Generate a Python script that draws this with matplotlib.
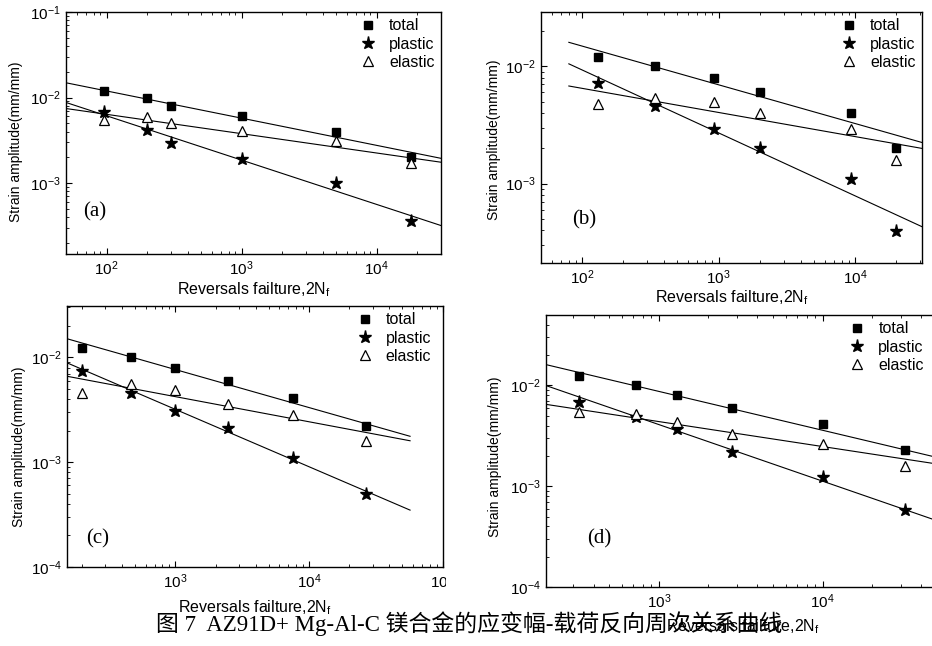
import numpy as np
import matplotlib
matplotlib.use('Agg')
import matplotlib.pyplot as plt
from matplotlib.patches import Rectangle

plt.rcParams['font.family'] = ['Liberation Sans', 'DejaVu Sans']
plt.rcParams['mathtext.fontset'] = 'custom'
plt.rcParams['mathtext.rm'] = 'Liberation Sans'
plt.rcParams['mathtext.it'] = 'Liberation Sans:italic'
plt.rcParams['mathtext.bf'] = 'Liberation Sans:bold'

# --- data ---
series_names = ['total', 'plastic', 'elastic']
panel_tags = ['(a)', '(b)', '(c)', '(d)']

# (a)
nf_a = [95, 198, 298, 1000, 5000, 18000]
total_a = [0.012, 0.010, 0.008, 0.006, 0.004, 0.002]
plastic_a = [0.0067, 0.0042, 0.0029, 0.0019, 0.0010, 0.00036]
elastic_a = [0.0054, 0.0059, 0.0051, 0.0041, 0.0031, 0.0017]
# fitted lines: strain = coef * (2Nf)**exp
fit_a = {'total': (0.0516, -0.318), 'plastic': (0.0664, -0.518), 'elastic': (0.018, -0.226)}
fit_range_a = (50, 30000)

# (b)
nf_b = [131, 343, 926, 2000, 9300, 20000]
total_b = [0.012, 0.010, 0.0079, 0.006, 0.004, 0.002]
plastic_b = [0.0072, 0.0046, 0.0029, 0.0020, 0.0011, 0.00039]
elastic_b = [0.0048, 0.0054, 0.0050, 0.0040, 0.0029, 0.0016]
fit_b = {'total': (0.0679, -0.330), 'plastic': (0.110, -0.5365), 'elastic': (0.0167, -0.2056)}
fit_range_b = (80, 31000)

# (c)
nf_c = [202, 468, 1000, 2500, 7600, 26500]
total_c = [0.0122, 0.010, 0.008, 0.006, 0.0041, 0.0022]
plastic_c = [0.0075, 0.0046, 0.0031, 0.0021, 0.0011, 0.0005]
elastic_c = [0.0046, 0.0056, 0.0049, 0.0036, 0.0028, 0.0016]
fit_c = {'total': (0.0942, -0.363), 'plastic': (0.141, -0.548), 'elastic': (0.0222, -0.240)}
fit_range_c = (155, 57000)

# (d)
nf_d = [325, 724, 1300, 2800, 10000, 31600]
total_d = [0.0123, 0.0102, 0.0081, 0.006, 0.0041, 0.0023]
plastic_d = [0.0069, 0.0049, 0.0037, 0.0022, 0.00123, 0.00058]
elastic_d = [0.0054, 0.0052, 0.0043, 0.0033, 0.0026, 0.0016]
fit_d = {'total': (0.1256, -0.386), 'plastic': (0.1986, -0.562), 'elastic': (0.0243, -0.248)}
fit_range_d = (205, 52000)

caption = '图 7  AZ91D+ Mg-Al-C 镁合金的应变幅-载荷反向周次关系曲线'
xlabel = 'Reversals failture,2N$_\\mathrm{f}$'
ylabel = 'Strain amplitude(mm/mm)'

# --- layout (pixels of a 932x646 canvas) ---
W, H = 932, 646
panels = [
    dict(tag=panel_tags[0], nf=nf_a, ys=[total_a, plastic_a, elastic_a], fit=fit_a, rng=fit_range_a,
         box=(66, 12, 441, 254), xlim=(50, 30000), ylim=(1.48e-4, 0.1), tagpos=(0.077, 0.174),
         ylab=(-0.115, 0.463), xpad=1.5, leg=(1.0, 1.0)),
    dict(tag=panel_tags[1], nf=nf_b, ys=[total_b, plastic_b, elastic_b], fit=fit_b, rng=fit_range_b,
         box=(541, 12, 922, 263), xlim=(50, 31000), ylim=(2.1e-4, 0.029), tagpos=(0.113, 0.171),
         ylab=(-0.105, 0.49), xpad=0.5, leg=(1.0, 1.0)),
    dict(tag=panel_tags[2], nf=nf_c, ys=[total_c, plastic_c, elastic_c], fit=fit_c, rng=fit_range_c,
         box=(67, 306, 443, 567), xlim=(155, 1.005e5), ylim=(1e-4, 0.031), tagpos=(0.082, 0.107),
         ylab=(-0.109, 0.46), xpad=5.0, leg=(0.985, 1.0)),
    dict(tag=panel_tags[3], nf=nf_d, ys=[total_d, plastic_d, elastic_d], fit=fit_d, rng=fit_range_d,
         box=(546, 315, 940, 587), xlim=(205, 52000), ylim=(1e-4, 0.05), tagpos=(0.135, 0.176),
         ylab=(-0.112, 0.48), xpad=4.5, leg=(0.975, 1.0)),
]

markers = {'total': dict(marker='s', ms=6, mfc='black', mec='black'),
           'plastic': dict(marker='*', ms=9.5, mfc='black', mec='black'),
           'elastic': dict(marker='^', ms=7.5, mfc='white', mec='black', mew=0.9)}

fig = plt.figure(figsize=(W / 100, H / 100), dpi=100)

for p in panels:
    x0, y0, x1, y1 = p['box']
    ax = fig.add_axes([x0 / W, 1 - y1 / H, (x1 - x0) / W, (y1 - y0) / H])
    ax.set_xscale('log')
    ax.set_yscale('log')

    xx = np.logspace(np.log10(p['rng'][0]), np.log10(p['rng'][1]), 100)
    for name in series_names:
        coef, ex = p['fit'][name]
        ax.plot(xx, coef * xx ** ex, color='black', lw=0.8, zorder=2)

    for name, vals in zip(series_names, p['ys']):
        ax.plot(p['nf'], vals, ls='none', label=name, zorder=3, **markers[name])

    ax.set_xlim(*p['xlim'])
    ax.set_ylim(*p['ylim'])
    ax.set_xlabel(xlabel, fontsize=11.5, labelpad=p['xpad'])
    ax.set_ylabel(ylabel, fontsize=10)
    ax.yaxis.set_label_coords(*p['ylab'])
    ax.tick_params(which='both', direction='in', top=True, right=False, labelsize=11, pad=4)
    ax.tick_params(which='major', length=4, width=0.8)
    ax.tick_params(which='minor', length=2, width=0.6)
    for s in ax.spines.values():
        s.set_linewidth(1.0)

    ax.legend(loc='upper right', bbox_to_anchor=p['leg'], frameon=False, fontsize=11.5,
              handlelength=1.0, handletextpad=0.8, labelspacing=0.2, borderaxespad=0.1,
              borderpad=0.3)
    ax.text(p['tagpos'][0], p['tagpos'][1], p['tag'], transform=ax.transAxes,
            ha='center', va='center', fontsize=15, family='Liberation Serif')

# the (c) 10^5 label is cut by the neighbouring panel in the original
fig.patches.append(Rectangle((446 / W, 1 - 600 / H), 40 / W, 32 / H, transform=fig.transFigure,
                             facecolor='white', edgecolor='none', zorder=5))

fig.text(469 / W, 1 - 624 / H, caption, ha='center', va='center', fontsize=16.5,
         family=['Liberation Serif', 'Noto Sans CJK SC'], zorder=6)

fig.savefig('out.png', dpi=100)
